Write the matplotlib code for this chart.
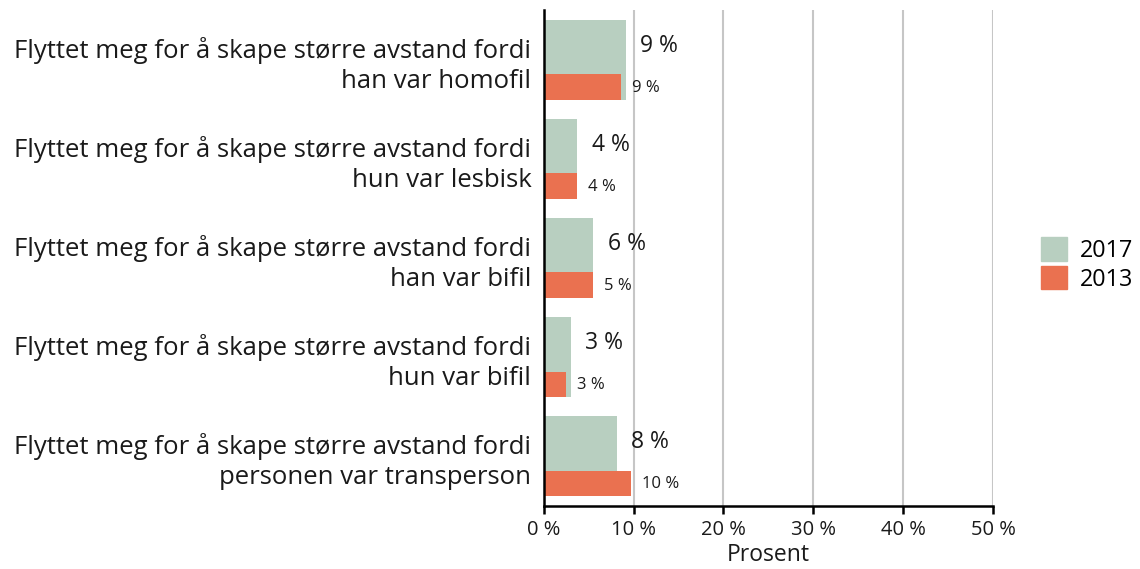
import matplotlib.pyplot as plt
import numpy as np
from matplotlib.patches import Patch

plt.rcParams['font.family'] = ['Open Sans', 'DejaVu Sans']

# data
categories = [
    "Flyttet meg for å skape større avstand fordi\nhan var homofil",
    "Flyttet meg for å skape større avstand fordi\nhun var lesbisk",
    "Flyttet meg for å skape større avstand fordi\nhan var bifil",
    "Flyttet meg for å skape større avstand fordi\nhun var bifil",
    "Flyttet meg for å skape større avstand fordi\npersonen var transperson",
]
values_2017 = [9.1, 3.75, 5.5, 3.0, 8.1]
values_2013 = [8.6, 3.75, 5.45, 2.5, 9.7]
labels_2017 = ["9 %", "4 %", "6 %", "3 %", "8 %"]
labels_2013 = ["9 %", "4 %", "5 %", "3 %", "10 %"]
xticks = [0, 10, 20, 30, 40, 50]

green = '#b8cfc0'
orange = '#ea7150'

fig = plt.figure(figsize=(11.4, 5.69), dpi=100)
ax = fig.add_axes([0.477, 0.111, 0.394, 0.871])

y = np.arange(len(categories))
ax.barh(y, values_2017, height=0.81, color=green, zorder=2)
ax.barh(y + 0.275, values_2013, height=0.26, color=orange, zorder=3)

# value labels
for i in range(len(categories)):
    ax.text(values_2017[i] + 1.6, i - 0.14, labels_2017[i], fontsize=16.5,
            ha='left', va='center', color='#1a1a1a')
    ax.text(values_2013[i] + 1.2, i + 0.28, labels_2013[i], fontsize=12,
            ha='left', va='center', color='#1a1a1a')

ax.set_ylim(len(categories) - 0.5, -0.5)
ax.set_xlim(0, 50)
ax.set_yticks(y)
ax.set_yticklabels(categories, fontsize=18.5, ha='right', color='#1a1a1a',
                   linespacing=1.25)
ax.tick_params(axis='y', length=0, pad=9)
ax.set_xticks(xticks)
ax.set_xticklabels([f"{t} %" for t in xticks], fontsize=14.5, color='#1a1a1a')
ax.tick_params(axis='x', length=6, width=1.8, direction='out', pad=4)
ax.set_xlabel("Prosent", fontsize=16.5, labelpad=2, color='#1a1a1a')

ax.grid(axis='x', color='#c6c6c6', linewidth=1.5, zorder=0)
ax.set_axisbelow(True)
for s in ['top', 'right']:
    ax.spines[s].set_visible(False)
for s in ['left', 'bottom']:
    ax.spines[s].set_linewidth(1.8)
    ax.spines[s].set_zorder(5)

handles = [Patch(color=green, label='2017'), Patch(color=orange, label='2013')]
fig.legend(handles=handles, loc='center left', bbox_to_anchor=(0.905, 0.535),
           frameon=False, fontsize=16.8, handlelength=1.1, handleheight=1.15,
           handletextpad=0.55, labelspacing=0.15, borderaxespad=0)

fig.savefig('out.png', dpi=100)
